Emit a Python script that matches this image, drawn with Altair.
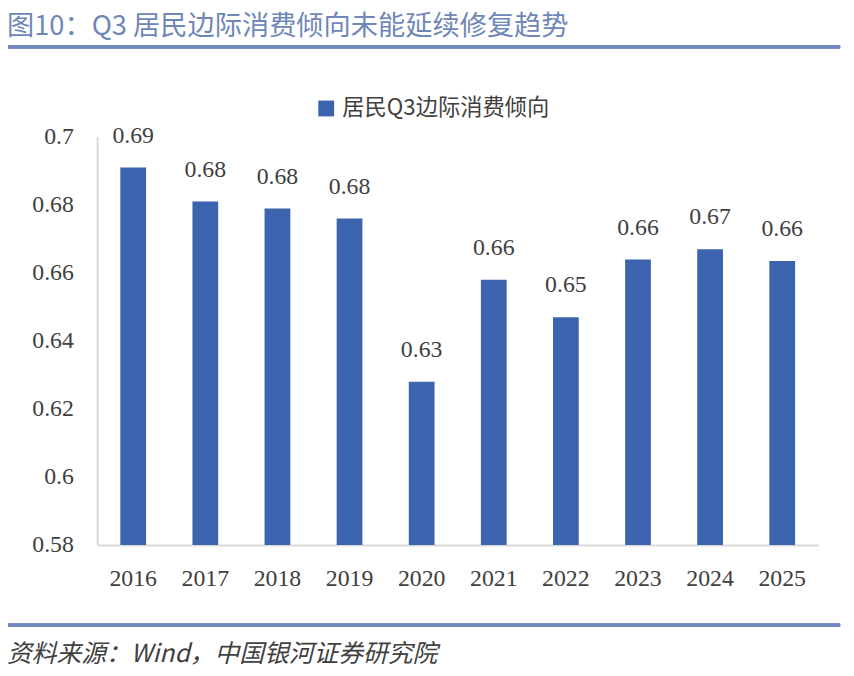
import altair as alt
import pandas as pd

years = ["2016", "2017", "2018", "2019", "2020", "2021", "2022", "2023", "2024", "2025"]
values = [0.691, 0.681, 0.679, 0.676, 0.628, 0.658, 0.647, 0.664, 0.667, 0.6635]
series_name = "居民Q3边际消费倾向"
title_text = "图10：Q3 居民边际消费倾向未能延续修复趋势"
source_text = "资料来源：Wind，中国银河证券研究院"
axis_min = 0.58
axis_max = 0.70
y_ticks = [0.58, 0.60, 0.62, 0.64, 0.66, 0.68, 0.70]

df = pd.DataFrame({"year": years, "value": values, "series": series_name})

NUM_FONT = "'Liberation Serif', 'DejaVu Serif', serif"
CJK_FONT = "Noto Sans CJK SC"
W, H = 728, 412

base = alt.Chart(df)

bars = base.mark_bar(size=26, color="#3c64ae").encode(
    x=alt.X("year:N", sort=years, title=None,
            axis=alt.Axis(labelAngle=0, labelFont=NUM_FONT, labelFontSize=24,
                          labelColor="#404040", labelPadding=22, ticks=False,
                          domainColor="#d9d9d9", domainWidth=2)),
    y=alt.Y("value:Q", title=None,
            scale=alt.Scale(domain=[axis_min, axis_max], nice=False, zero=False),
            axis=alt.Axis(values=y_ticks,
                          labelExpr="format(datum.value, '.2~f')",
                          labelFont=NUM_FONT, labelFontSize=24, labelColor="#404040",
                          labelPadding=24, ticks=False, grid=False,
                          domainColor="#d9d9d9", domainWidth=2)),
    y2=alt.datum(axis_min),
    color=alt.Color("series:N", scale=alt.Scale(range=["#3c64ae"]), title=None,
                    legend=alt.Legend(orient="none", legendX=220, legendY=-40,
                                      symbolType="square", symbolSize=256,
                                      labelFont=CJK_FONT, labelFontSize=22.5,
                                      labelLimit=500, labelOffset=5,
                                      labelColor="#404040", symbolStrokeWidth=0)),
)

labels = base.mark_text(font=NUM_FONT, fontSize=24, color="#404040",
                        baseline="bottom", dy=-20).encode(
    x=alt.X("year:N", sort=years),
    y="value:Q",
    text=alt.Text("value:Q", format=".2f"),
)

title = alt.Chart(pd.DataFrame({"t": [title_text]})).mark_text(
    font=CJK_FONT, fontSize=27.5, color="#6f87b8", align="left", baseline="middle"
).encode(x=alt.value(-91), y=alt.value(-111), text="t:N")

source = alt.Chart(pd.DataFrame({"t": [source_text]})).mark_text(
    font=CJK_FONT, fontSize=25, color="#404040", align="left", baseline="middle",
    fontStyle="italic"
).encode(x=alt.value(-91), y=alt.value(522), text="t:N")

rule_top = alt.Chart(df).mark_rule(color="#7088bc", strokeWidth=3).encode(
    x=alt.value(-92), x2=alt.value(750), y=alt.value(-91))
rule_bottom = alt.Chart(df).mark_rule(color="#7088bc", strokeWidth=3).encode(
    x=alt.value(-92), x2=alt.value(750), y=alt.value(493))

chart = alt.layer(bars, labels, title, source, rule_top, rule_bottom).properties(
    width=W, height=H,
    autosize=alt.AutoSizeParams(type="none"),
    padding={"left": 90, "top": 127, "right": 28, "bottom": 129},
).configure(
    background="white",
    view=alt.ViewConfig(stroke="#ffffff", strokeOpacity=0, strokeWidth=1),
)

chart.save("out.html", embed_options={"renderer": "svg", "actions": False})
